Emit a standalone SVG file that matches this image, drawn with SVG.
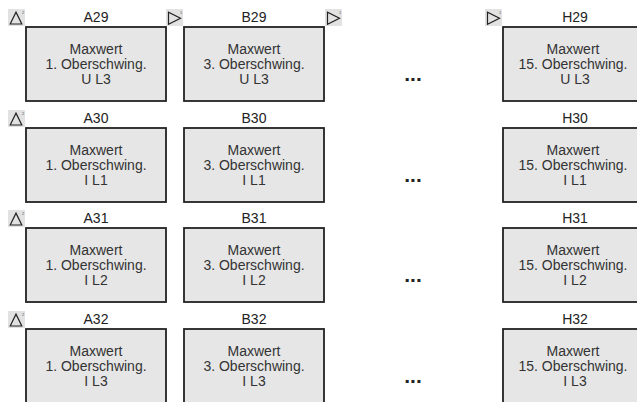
<svg xmlns="http://www.w3.org/2000/svg" width="637" height="402" viewBox="0 0 637 402">
<style>
.box{fill:#e6e6e6;stroke:#222;stroke-width:1.8}
.t{font-family:"Liberation Sans",Arial,sans-serif;font-size:14px;fill:#333;text-anchor:middle}
.lbl{font-family:"Liberation Sans",Arial,sans-serif;font-size:14px;fill:#222;text-anchor:middle}
.ico{fill:#e2e2e2}
.tri{fill:none;stroke:#222;stroke-width:1.2;stroke-linejoin:miter}
.sup{font-family:"Liberation Sans",Arial,sans-serif;font-size:4px;fill:#555}
.dots{font-family:"Liberation Sans",Arial,sans-serif;font-size:21px;font-weight:bold;fill:#222;text-anchor:middle}
</style>
<defs>
<g id="up">
<rect class="ico" x="0" y="0" width="17" height="17"/>
<path class="tri" d="M2.2 15 L8 3.2 L13.8 15 Z"/>
<text class="sup" x="14" y="5">2</text>
</g>
<g id="right">
<rect class="ico" x="0" y="0" width="17" height="17"/>
<path class="tri" d="M2.5 3.2 L2.5 15.2 L14.5 9.2 Z"/>
<text class="sup" x="14" y="5">1</text>
</g>
</defs>
<rect width="637" height="402" fill="#fff"/>

<!-- Row 29 -->
<g id="row29">
<use href="#up" x="8" y="9"/>
<use href="#right" x="166" y="9"/>
<use href="#right" x="325" y="9"/>
<use href="#right" x="485" y="9"/>
<g id="A29"><text class="lbl" x="96" y="22">A29</text><rect class="box" x="26" y="27" width="140" height="74"/><text class="t" x="96" y="54">Maxwert</text><text class="t" x="96" y="69">1. Oberschwing.</text><text class="t" x="96" y="84">U L3</text></g>
<g id="B29"><text class="lbl" x="254" y="22">B29</text><rect class="box" x="184" y="27" width="140" height="74"/><text class="t" x="254" y="54">Maxwert</text><text class="t" x="254" y="69">3. Oberschwing.</text><text class="t" x="254" y="84">U L3</text></g>
<text class="dots" x="413" y="81">...</text>
<g id="H29"><text class="lbl" x="575" y="22">H29</text><rect class="box" x="503" y="27" width="140" height="74"/><text class="t" x="573" y="54">Maxwert</text><text class="t" x="573" y="69">15. Oberschwing.</text><text class="t" x="575" y="84">U L3</text></g>
</g>

<!-- Row 30 -->
<g id="row30">
<use href="#up" x="8" y="110"/>
<g id="A30"><text class="lbl" x="96" y="123">A30</text><rect class="box" x="26" y="128" width="140" height="74"/><text class="t" x="96" y="155">Maxwert</text><text class="t" x="96" y="170">1. Oberschwing.</text><text class="t" x="96" y="185">I L1</text></g>
<g id="B30"><text class="lbl" x="254" y="123">B30</text><rect class="box" x="184" y="128" width="140" height="74"/><text class="t" x="254" y="155">Maxwert</text><text class="t" x="254" y="170">3. Oberschwing.</text><text class="t" x="254" y="185">I L1</text></g>
<text class="dots" x="413" y="182">...</text>
<g id="H30"><text class="lbl" x="575" y="123">H30</text><rect class="box" x="503" y="128" width="140" height="74"/><text class="t" x="573" y="155">Maxwert</text><text class="t" x="573" y="170">15. Oberschwing.</text><text class="t" x="575" y="185">I L1</text></g>
</g>

<!-- Row 31 -->
<g id="row31">
<use href="#up" x="8" y="210"/>
<g id="A31"><text class="lbl" x="96" y="223">A31</text><rect class="box" x="26" y="228" width="140" height="74"/><text class="t" x="96" y="255">Maxwert</text><text class="t" x="96" y="270">1. Oberschwing.</text><text class="t" x="96" y="285">I L2</text></g>
<g id="B31"><text class="lbl" x="254" y="223">B31</text><rect class="box" x="184" y="228" width="140" height="74"/><text class="t" x="254" y="255">Maxwert</text><text class="t" x="254" y="270">3. Oberschwing.</text><text class="t" x="254" y="285">I L2</text></g>
<text class="dots" x="413" y="282">...</text>
<g id="H31"><text class="lbl" x="575" y="223">H31</text><rect class="box" x="503" y="228" width="140" height="74"/><text class="t" x="573" y="255">Maxwert</text><text class="t" x="573" y="270">15. Oberschwing.</text><text class="t" x="575" y="285">I L2</text></g>
</g>

<!-- Row 32 -->
<g id="row32">
<use href="#up" x="8" y="311"/>
<g id="A32"><text class="lbl" x="96" y="324">A32</text><rect class="box" x="26" y="329" width="140" height="80"/><text class="t" x="96" y="356">Maxwert</text><text class="t" x="96" y="371">1. Oberschwing.</text><text class="t" x="96" y="386">I L3</text></g>
<g id="B32"><text class="lbl" x="254" y="324">B32</text><rect class="box" x="184" y="329" width="140" height="80"/><text class="t" x="254" y="356">Maxwert</text><text class="t" x="254" y="371">3. Oberschwing.</text><text class="t" x="254" y="386">I L3</text></g>
<text class="dots" x="413" y="383">...</text>
<g id="H32"><text class="lbl" x="575" y="324">H32</text><rect class="box" x="503" y="329" width="140" height="80"/><text class="t" x="573" y="356">Maxwert</text><text class="t" x="573" y="371">15. Oberschwing.</text><text class="t" x="575" y="386">I L3</text></g>
</g>
</svg>
